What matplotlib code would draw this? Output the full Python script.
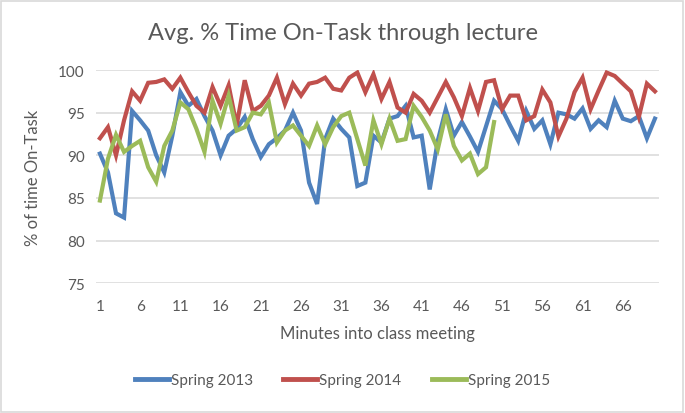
import matplotlib.pyplot as plt
from matplotlib.patches import Rectangle

# % time on-task per minute of lecture
spring_2013 = [90.2, 88.0, 83.2, 82.7, 95.2, 94.1, 92.9, 90.0, 88.0, 92.3,
               97.4, 95.8, 96.6, 94.6, 92.9, 90.0, 92.3, 93.1, 94.5, 91.9,
               89.8, 91.3, 92.0, 92.9, 95.0, 92.9, 86.8, 84.3, 91.9, 94.3,
               93.1, 92.1, 86.4, 86.8, 92.3, 91.5, 94.3, 94.6, 95.8, 92.1,
               92.3, 86.0, 91.7, 95.4, 92.3, 93.9, 92.2, 90.4, 93.4, 96.4,
               95.4, 93.5, 91.7, 95.2, 93.1, 94.1, 91.3, 95.0, 94.8, 94.3,
               95.5, 93.1, 94.1, 93.3, 96.4, 94.3, 94.0, 94.6, 92.0, 94.3]
spring_2014 = [92.0, 93.3, 90.0, 94.1, 97.5, 96.4, 98.5, 98.6, 98.9, 97.8,
               99.1, 97.4, 95.8, 95.0, 98.0, 95.8, 98.2, 93.5, 98.8, 95.2,
               95.8, 97.0, 99.1, 96.0, 98.4, 97.0, 98.4, 98.6, 99.1, 97.8,
               97.6, 99.1, 99.7, 97.4, 99.5, 96.6, 98.6, 95.6, 95.0, 97.2,
               96.4, 95.0, 96.8, 98.6, 96.8, 94.6, 97.9, 95.2, 98.6, 98.8,
               95.4, 97.0, 97.0, 94.1, 94.6, 97.7, 96.2, 92.2, 94.3, 97.4,
               99.1, 95.4, 97.6, 99.7, 99.3, 98.4, 97.5, 94.5, 98.4, 97.5]
spring_2015 = [84.7, 89.6, 92.4, 90.4, 91.1, 91.7, 88.6, 86.9, 91.1, 92.9,
               96.2, 95.4, 93.1, 90.4, 96.4, 93.7, 97.0, 92.9, 93.3, 95.0,
               94.8, 96.2, 91.5, 92.9, 93.5, 92.3, 91.1, 93.5, 91.3, 93.3,
               94.6, 95.0, 91.9, 88.8, 94.1, 91.3, 94.3, 91.7, 91.9, 95.8,
               94.5, 92.9, 90.7, 94.8, 91.1, 89.4, 90.2, 87.8, 88.6, 93.9]

series_names = ["Spring 2013", "Spring 2014", "Spring 2015"]
colors = ["#4f81bd", "#c0504d", "#9bbb59"]
xticks = list(range(1, 67, 5))

plt.rcParams['font.family'] = ['Lato', 'DejaVu Sans']
txt = "#595959"

fig = plt.figure(figsize=(6.85, 4.14), dpi=100)
ax = fig.add_axes([0.140, 0.3133, 0.822, 0.5152])

for vals, name, c in zip([spring_2013, spring_2014, spring_2015], series_names, colors):
    ax.plot(range(1, len(vals) + 1), vals, color=c, lw=3.0, label=name,
            solid_joinstyle='miter')

ax.set_xlim(0.5, 70.5)
ax.set_ylim(75, 100)
ax.set_yticks(range(75, 101, 5))
ax.set_xticks(xticks)
ax.grid(axis='y', color='#d9d9d9', lw=1.1)
ax.set_axisbelow(True)
for s in ['top', 'right', 'left', 'bottom']:
    ax.spines[s].set_visible(False)
ax.tick_params(length=0, labelsize=11, labelcolor=txt)
ax.tick_params(axis='y', pad=8)
ax.tick_params(axis='x', pad=11)

ax.set_xlabel("Minutes into class meeting", fontsize=12, color=txt, labelpad=9)
ax.set_ylabel("% of time On-Task", fontsize=12, color=txt, labelpad=12)
fig.text(0.5, 0.92, "Avg. % Time On-Task through lecture", ha='center', va='center',
         fontsize=17, color=txt)

leg = fig.legend(loc='center', bbox_to_anchor=(0.5, 0.08), ncol=3, frameon=False,
                 fontsize=11, handlelength=2.2, handletextpad=0.15, columnspacing=2.0)
for t in leg.get_texts():
    t.set_color(txt)
for h in leg.legend_handles:
    h.set_linewidth(3.5)

fig.patches.append(Rectangle((0.002, 0.003), 0.995, 0.993, transform=fig.transFigure,
                             fill=False, edgecolor='#d9d9d9', lw=1.2))

fig.savefig("out.png", dpi=100)
